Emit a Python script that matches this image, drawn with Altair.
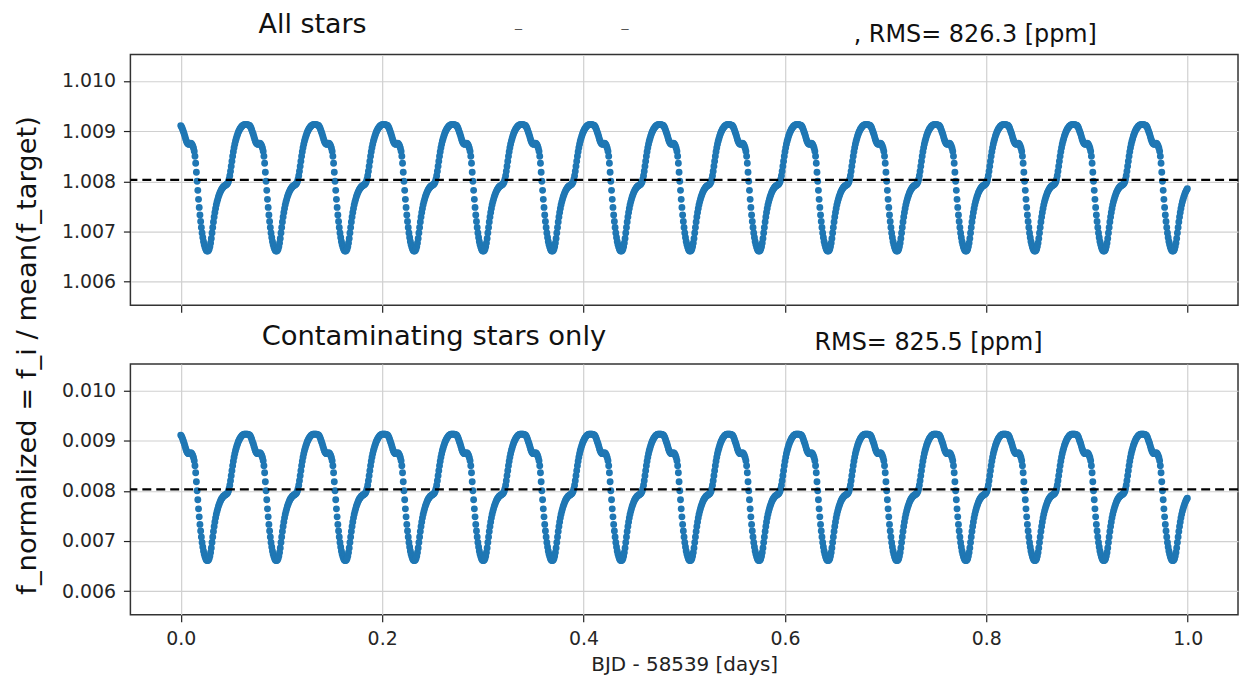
import altair as alt
import pandas as pd

# One cycle of the light curve (97 samples per cycle, starting at a peak)
CYCLE_ALL = [
    1.00911, 1.00909, 1.00906, 1.00902, 1.00898, 1.00894, 1.00889, 1.00884, 1.00880, 1.00877,
    1.00875, 1.00874, 1.00874, 1.00875, 1.00876, 1.00875, 1.00873, 1.00870, 1.00866, 1.00860,
    1.00850, 1.00836, 1.00818, 1.00800, 1.00782, 1.00764, 1.00748, 1.00733, 1.00720, 1.00708,
    1.00697, 1.00688, 1.00680, 1.00674, 1.00669, 1.00665, 1.00662, 1.00661, 1.00661, 1.00662,
    1.00665, 1.00670, 1.00677, 1.00686, 1.00697, 1.00708, 1.00719, 1.00729, 1.00738, 1.00746,
    1.00753, 1.00759, 1.00764, 1.00769, 1.00773, 1.00777, 1.00780, 1.00783, 1.00785, 1.00787,
    1.00789, 1.00790, 1.00791, 1.00792, 1.00793, 1.00794, 1.00796, 1.00799, 1.00804, 1.00811,
    1.00820, 1.00830, 1.00840, 1.00850, 1.00859, 1.00867, 1.00874, 1.00880, 1.00885, 1.00890,
    1.00894, 1.00898, 1.00901, 1.00904, 1.00906, 1.00908, 1.00910, 1.00911, 1.00912, 1.00913,
    1.00913, 1.00913, 1.00913, 1.00913, 1.00913, 1.00912, 1.00912,
]
CYCLE_CONTAM = [
    0.00911, 0.00909, 0.00906, 0.00902, 0.00898, 0.00894, 0.00889, 0.00884, 0.00880, 0.00877,
    0.00875, 0.00874, 0.00874, 0.00875, 0.00876, 0.00875, 0.00873, 0.00870, 0.00866, 0.00860,
    0.00850, 0.00836, 0.00818, 0.00800, 0.00782, 0.00764, 0.00748, 0.00733, 0.00720, 0.00708,
    0.00697, 0.00688, 0.00680, 0.00674, 0.00669, 0.00665, 0.00662, 0.00661, 0.00661, 0.00662,
    0.00665, 0.00670, 0.00677, 0.00686, 0.00697, 0.00708, 0.00719, 0.00729, 0.00738, 0.00746,
    0.00753, 0.00759, 0.00764, 0.00769, 0.00773, 0.00777, 0.00780, 0.00783, 0.00785, 0.00787,
    0.00789, 0.00790, 0.00791, 0.00792, 0.00793, 0.00794, 0.00796, 0.00799, 0.00804, 0.00811,
    0.00820, 0.00830, 0.00840, 0.00850, 0.00859, 0.00867, 0.00874, 0.00880, 0.00885, 0.00890,
    0.00894, 0.00898, 0.00901, 0.00904, 0.00906, 0.00908, 0.00910, 0.00911, 0.00912, 0.00913,
    0.00913, 0.00913, 0.00913, 0.00913, 0.00913, 0.00912, 0.00912,
]
CADENCE_DAYS = 0.000706
N_SAMPLES = 1417
MEAN_ALL = 1.00803
MEAN_CONTAM = 0.00803

X_TICKS = [0.0, 0.2, 0.4, 0.6, 0.8, 1.0]
Y_TICKS_ALL = [1.006, 1.007, 1.008, 1.009, 1.010]
Y_TICKS_CONTAM = [0.006, 0.007, 0.008, 0.009, 0.010]
Y_DOMAIN_ALL = [1.00553, 1.01053]
Y_DOMAIN_CONTAM = [0.00553, 0.01053]

TITLE_ALL = "All stars"
RMS_ALL = ", RMS= 826.3 [ppm]"
TITLE_CONTAM = "Contaminating stars only"
RMS_CONTAM = "RMS= 825.5 [ppm]"
X_LABEL = "BJD - 58539 [days]"
Y_LABEL = "f_normalized = f_i / mean(f_target)"

FONT = "DejaVu Sans"
BLUE = "#1f77b4"
W, H = 1113, 252

t = [round(i * CADENCE_DAYS, 7) for i in range(N_SAMPLES)]
df_all = pd.DataFrame({"t": t, "f": [CYCLE_ALL[i % len(CYCLE_ALL)] for i in range(N_SAMPLES)]})
df_con = pd.DataFrame({"t": t, "f": [CYCLE_CONTAM[i % len(CYCLE_CONTAM)] for i in range(N_SAMPLES)]})


def text_layer(label, x, y, size, angle=0, color="#111111"):
    return alt.Chart(pd.DataFrame({"label": [label]})).mark_text(
        font=FONT, fontSize=size, color=color, align="center", baseline="middle", angle=angle
    ).encode(x=alt.value(x), y=alt.value(y), text="label:N")


def panel(df, mean, ydom, yticks, bottom, texts):
    if bottom:
        xaxis = alt.Axis(values=X_TICKS, format=".1f", title=X_LABEL, titleFont=FONT,
                         titleFontSize=20, titleFontWeight="normal", titleColor="#222222",
                         titlePadding=6)
    else:
        xaxis = alt.Axis(values=X_TICKS, format=".1f", labels=False, title=None)
    x = alt.X("t:Q", scale=alt.Scale(domain=[-0.05, 1.05], nice=False, zero=False), axis=xaxis)
    y = alt.Y("f:Q", scale=alt.Scale(domain=ydom, nice=False, zero=False),
              axis=alt.Axis(values=yticks, format=".3f", title=None))
    pts = alt.Chart(df).mark_circle(size=48, color=BLUE, opacity=1).encode(x=x, y=y)
    rule = alt.Chart(pd.DataFrame({"f": [mean]})).mark_rule(
        color="black", strokeWidth=2.2, strokeDash=[9, 5]
    ).encode(y=alt.Y("f:Q"))
    layers = [pts, rule] + [text_layer(*tx) for tx in texts]
    return alt.layer(*layers).properties(width=W, height=H)


top = panel(df_all, MEAN_ALL, Y_DOMAIN_ALL, Y_TICKS_ALL, False, [
    (TITLE_ALL, 183, -29.5, 27),
    (RMS_ALL, 849, -19, 24),
    ("_", 390, -32, 14, 0, "#555555"),
    ("_", 497, -32, 14, 0, "#555555"),
])
bottom = panel(df_con, MEAN_CONTAM, Y_DOMAIN_CONTAM, Y_TICKS_CONTAM, True, [
    (TITLE_CONTAM, 305, -27, 27.5),
    (RMS_CONTAM, 802, -21, 24),
    (Y_LABEL, -103, -8.5, 27.5, 270),
])

chart = alt.vconcat(top, bottom, spacing=59, bounds="flush").properties(
    padding={"left": 5, "top": 0, "right": 0, "bottom": 0},
).configure_view(
    stroke="#333333", strokeWidth=1.5
).configure_axis(
    domain=False, grid=True, gridColor="#d0d0d0", gridWidth=1.2,
    ticks=True, tickColor="#222222", tickSize=7, tickWidth=1.2,
    labelFont=FONT, labelFontSize=19, labelColor="#262626", labelPadding=8,
)

chart.save("out.html", embed_options={"renderer": "svg", "actions": False})
